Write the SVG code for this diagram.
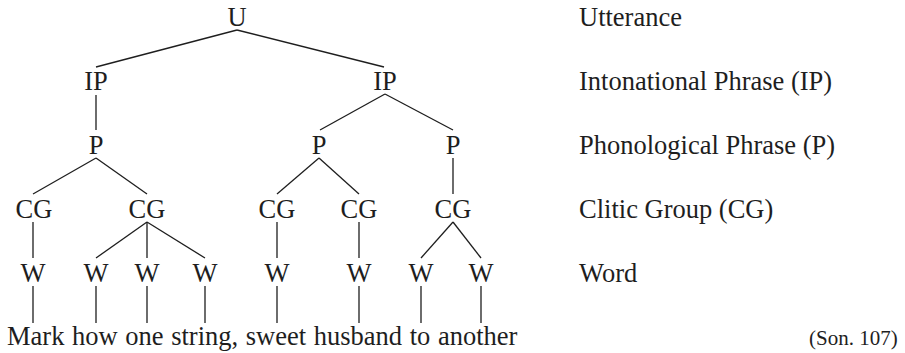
<svg xmlns="http://www.w3.org/2000/svg" width="905" height="353" viewBox="0 0 905 353">
<style>
  .n { font-family: "Liberation Serif", "Times New Roman", serif; font-size: 26.5px; fill: #1e1e1e; text-anchor: middle; }
  .lbl { font-family: "Liberation Serif", "Times New Roman", serif; font-size: 26.5px; fill: #1e1e1e; }
  .sent { word-spacing: 1px; }
  .src { font-family: "Liberation Serif", "Times New Roman", serif; font-size: 21px; fill: #1e1e1e; }
  .e { stroke: #1e1e1e; stroke-width: 1.3; fill: none; }
</style>
<rect width="905" height="353" fill="#ffffff"/>
<g id="connectors">
  <line class="e" x1="237" y1="30" x2="96" y2="67"/>
  <line class="e" x1="237" y1="30" x2="384" y2="67"/>
  <line class="e" x1="96" y1="95" x2="96" y2="130"/>
  <line class="e" x1="385" y1="94" x2="320" y2="130"/>
  <line class="e" x1="385" y1="94" x2="453" y2="130"/>
  <line class="e" x1="96" y1="158" x2="33" y2="194"/>
  <line class="e" x1="96" y1="158" x2="147" y2="194"/>
  <line class="e" x1="319" y1="158" x2="277" y2="194"/>
  <line class="e" x1="319" y1="158" x2="359" y2="194"/>
  <line class="e" x1="453" y1="158" x2="453" y2="194"/>
  <line class="e" x1="33" y1="222" x2="33" y2="258"/>
  <line class="e" x1="147" y1="222" x2="96" y2="258"/>
  <line class="e" x1="147" y1="222" x2="147" y2="258"/>
  <line class="e" x1="147" y1="222" x2="205" y2="258"/>
  <line class="e" x1="277" y1="222" x2="277" y2="258"/>
  <line class="e" x1="359" y1="222" x2="359" y2="258"/>
  <line class="e" x1="453" y1="222" x2="421" y2="258"/>
  <line class="e" x1="453" y1="222" x2="481" y2="258"/>
  <line class="e" x1="33" y1="286" x2="33" y2="323"/>
  <line class="e" x1="96" y1="286" x2="96" y2="323"/>
  <line class="e" x1="147" y1="286" x2="147" y2="323"/>
  <line class="e" x1="205" y1="286" x2="205" y2="323"/>
  <line class="e" x1="277" y1="286" x2="277" y2="323"/>
  <line class="e" x1="359" y1="286" x2="359" y2="323"/>
  <line class="e" x1="421" y1="286" x2="421" y2="323"/>
  <line class="e" x1="481" y1="286" x2="481" y2="323"/>
</g>
<g id="node-U"><text class="n" x="237" y="26">U</text></g>
<g id="node-IP1"><text class="n" x="96" y="90">IP</text></g>
<g id="node-IP2"><text class="n" x="385" y="90">IP</text></g>
<g id="node-P1"><text class="n" x="96" y="154">P</text></g>
<g id="node-P2"><text class="n" x="319" y="154">P</text></g>
<g id="node-P3"><text class="n" x="453" y="154">P</text></g>
<g id="node-CG1"><text class="n" x="34" y="218">CG</text></g>
<g id="node-CG2"><text class="n" x="147" y="218">CG</text></g>
<g id="node-CG3"><text class="n" x="277" y="218">CG</text></g>
<g id="node-CG4"><text class="n" x="359" y="218">CG</text></g>
<g id="node-CG5"><text class="n" x="453" y="218">CG</text></g>
<g id="node-W1"><text class="n" x="33" y="282">W</text></g>
<g id="node-W2"><text class="n" x="96" y="282">W</text></g>
<g id="node-W3"><text class="n" x="147" y="282">W</text></g>
<g id="node-W4"><text class="n" x="205" y="282">W</text></g>
<g id="node-W5"><text class="n" x="277" y="282">W</text></g>
<g id="node-W6"><text class="n" x="359" y="282">W</text></g>
<g id="node-W7"><text class="n" x="421" y="282">W</text></g>
<g id="node-W8"><text class="n" x="481" y="282">W</text></g>
<g id="sentence"><text class="lbl sent" x="7" y="345">Mark how one string, sweet husband to another</text></g>
<g id="labels">
  <text class="lbl" x="579" y="26">Utterance</text>
  <text class="lbl" x="579" y="90">Intonational Phrase (IP)</text>
  <text class="lbl" x="579" y="154">Phonological Phrase (P)</text>
  <text class="lbl" x="579" y="218">Clitic Group (CG)</text>
  <text class="lbl" x="579" y="282">Word</text>
</g>
<g id="source"><text class="src" x="809" y="345">(Son. 107)</text></g>
</svg>
